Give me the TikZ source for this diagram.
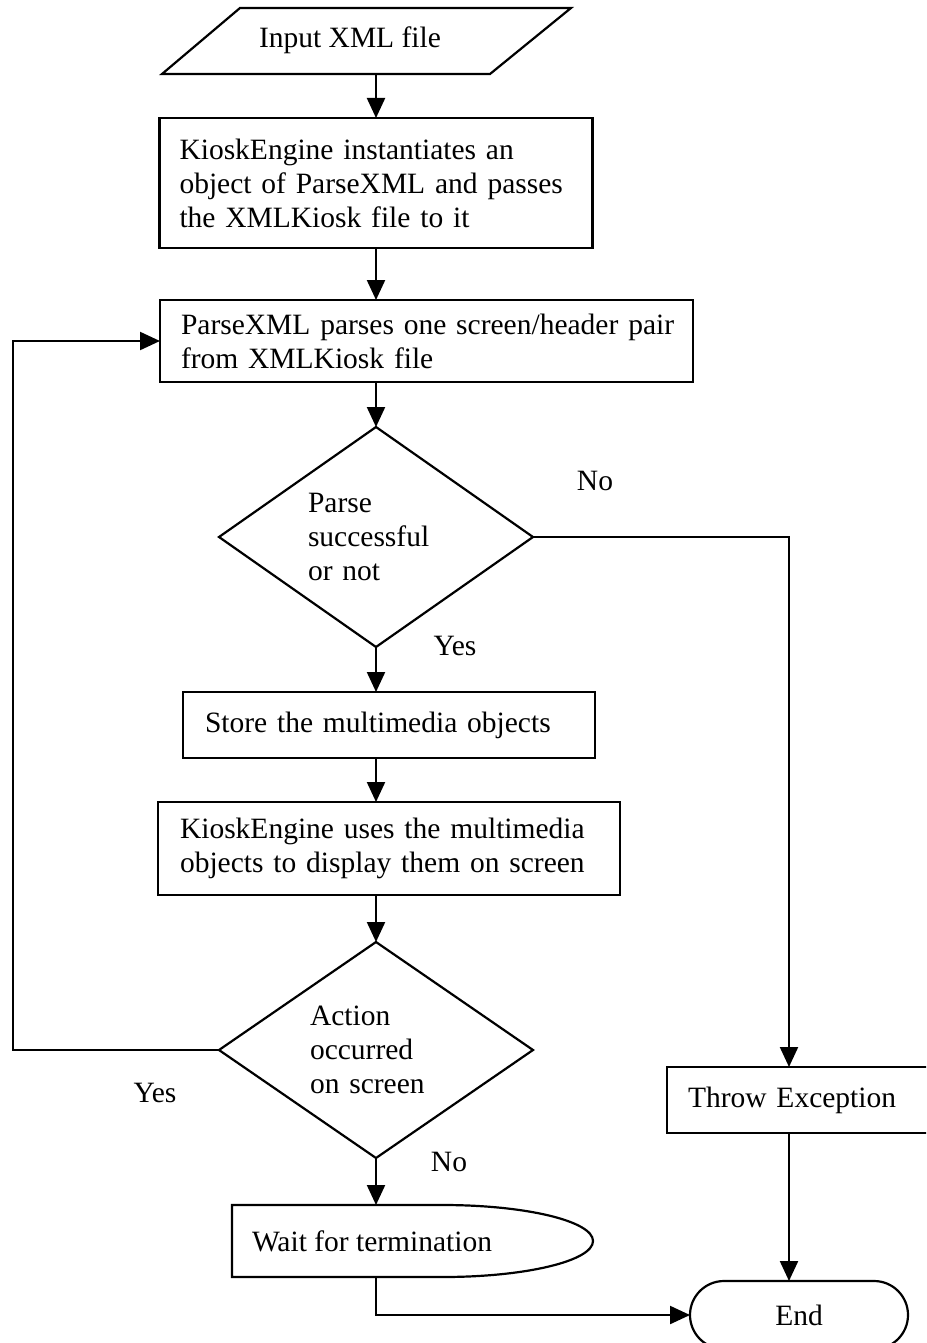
\documentclass[tikz,border=0pt]{standalone}
\usepackage{fontspec}
\setmainfont{Liberation Serif}
\usetikzlibrary{arrows.meta,shapes.geometric,shapes.misc}
\begin{document}
\begin{tikzpicture}[x=1pt,y=-1pt,
  every node/.style={font=\fontsize{29.5}{34}\selectfont, inner sep=0pt, outer sep=0pt},
  ln/.style={line width=2.2pt},
  arr/.style={ln, -{Triangle[length=20pt,width=18pt]}},
  box/.style={draw, ln, rectangle, align=left},
  dia/.style={draw, ln, diamond, aspect=1.43, align=left},
  term/.style={draw, ln, rounded rectangle}]
\useasboundingbox (0,0) rectangle (926,1343);
\clip (0,0) rectangle (926,1343);

% input parallelogram
\draw[ln] (240,8) -- (571,8) -- (490,74) -- (162,74) -- cycle;
\node (in) at (350,40) {Input XML file};
\coordinate (inb) at (376,74);

\node[box, minimum width=433, minimum height=130, text width=393] (b1) at (376,183)
  {\mbox{KioskEngine instantiates an}\\\mbox{object of ParseXML and passes}\\\mbox{the XMLKiosk file to it}};
\node[box, minimum width=533, minimum height=82, text width=491] (b2) at (426.5,341)
  {\mbox{ParseXML parses one screen/header pair}\\\mbox{from XMLKiosk file}};
\node[dia, minimum width=314, minimum height=220, text width=136] (d1) at (376,537)
  {Parse\\successful\\or not};
\node[box, minimum width=412, minimum height=66, text width=368] (store) at (389,725)
  {\mbox{Store the multimedia objects}};
\node[box, minimum width=462, minimum height=93, text width=418] (b4) at (389,848.5)
  {\mbox{KioskEngine uses the multimedia}\\\mbox{objects to display them on screen}};
\node[dia, minimum width=314, minimum height=216, text width=132] (d2) at (376,1050)
  {Action\\occurred\\on screen};
\node[box, minimum width=273, minimum height=66, text width=231] (throw) at (803.5,1100)
  {\mbox{Throw Exception}};
\node[term, minimum width=218, minimum height=68] (end) at (799,1315) {End};

% wait (delay shape)
\draw[ln] (232,1205) -- (443,1205) arc[start angle=-90,end angle=90,x radius=150,y radius=36] -- (232,1277) -- cycle;
\node[anchor=west] (wait) at (252,1241) {Wait for termination};
\coordinate (wtop) at (376,1205);
\coordinate (wbot) at (376,1277);

% labels
\node (no1) at (595,481) {No};
\node (yes1) at (455,646) {Yes};
\node (yes2) at (155,1093) {Yes};
\node (no2) at (449,1162) {No};

% connectors
\draw[arr] (inb) -- (inb |- b1.north);
\draw[arr] (b1.south) -- (b1.south |- b2.north);
\draw[arr] (d1.north |- b2.south) -- (d1.north);
\draw[arr] (d1.south) -- (d1.south |- store.north);
\draw[arr] (d1.south |- store.south) -- (d1.south |- b4.north);
\draw[arr] (d2.north |- b4.south) -- (d2.north);
\draw[arr] (d2.south) -- (wtop);
\coordinate (lp) at (13,0);
\draw[arr] (d2.west) -| (lp |- b2.west) -- (b2.west);
\coordinate (tx) at (789,0);
\draw[arr] (d1.east) -| (tx |- throw.north);
\draw[arr] (tx |- throw.south) -- (tx |- end.north);
\draw[arr] (wbot) |- (end.west);
\end{tikzpicture}
\end{document}
